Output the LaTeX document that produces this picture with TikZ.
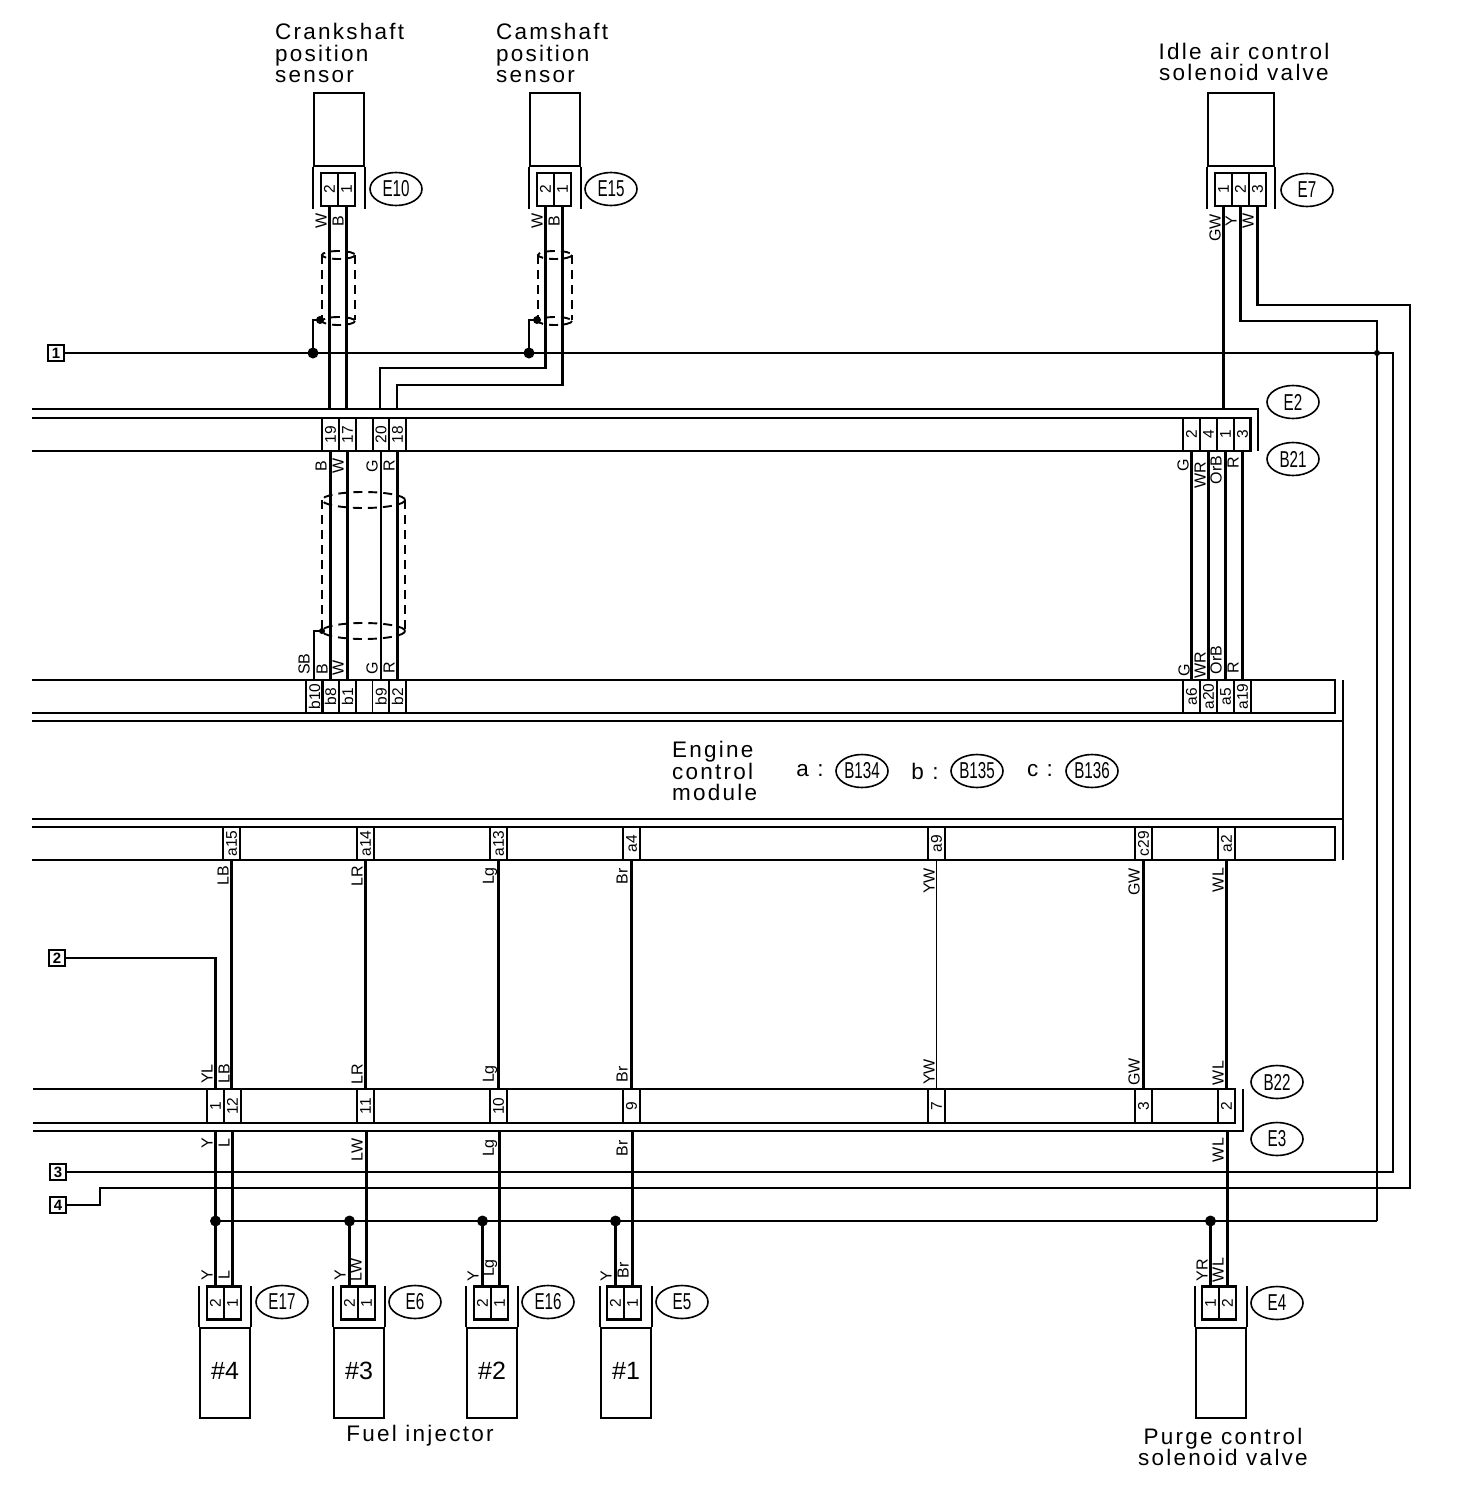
\documentclass[tikz,border=0pt]{standalone}
\usepackage{fontspec}
\setmainfont{Liberation Sans}
\newfontfamily\lblfont[LetterSpace=10]{Liberation Sans}
\usetikzlibrary{shapes.geometric,calc}
\newcommand{\rt}[1]{\rotatebox{90}{#1}}
\newcommand{\nw}[1]{\scalebox{0.66}[1]{#1}}
\tikzset{
  wire/.style={line width=2.2pt,line join=miter},
  hwire/.style={line width=2.5pt,line join=miter},
  frame/.style={line width=2.3pt},
  shield/.style={line width=1.9pt,dash pattern=on 9pt off 6pt},
  cell/.style={draw,line width=1.6pt,inner sep=0pt,minimum width=17pt,minimum height=33pt,font=\fontsize{15.5}{15}\selectfont},
  ccell/.style={cell,line width=2.2pt,font=\fontsize{15.5}{15}\selectfont},
  wlab/.style={rotate=90,inner sep=0pt,font=\fontsize{16}{16}\selectfont},
  tag/.style={draw,ellipse,line width=1.6pt,inner sep=0pt,minimum width=52pt,minimum height=33pt,font=\fontsize{23}{23}\selectfont},
  term/.style={draw,line width=2pt,inner sep=0pt,minimum size=16pt,font=\fontsize{15}{15}\selectfont\bfseries},
  dot/.style={circle,fill=black,draw=none,inner sep=0pt,minimum size=11pt},
  hous/.style={draw,line width=2.2pt,inner sep=0pt,minimum width=50pt,anchor=north west},
  caption/.style={inner sep=0pt,align=left,anchor=north west,font=\fontsize{22.5}{21.5}\selectfont\lblfont},
  ccaption/.style={inner sep=0pt,align=center,font=\fontsize{22.5}{21.5}\selectfont\lblfont},
}
\begin{document}
\begin{tikzpicture}[x=1pt,y=-1pt]
\useasboundingbox (0,0) rectangle (1456,1488);
% horizontal reference levels
\coordinate (e2y) at (0,409);
\coordinate (e3y) at (0,1131);
% captions
\node[caption] (capa) at (275,23) {Crankshaft\\position\\sensor};
\node[caption] (capb) at (496,23) {Camshaft\\position\\sensor};
\node[ccaption] (capc) at (1244,62) {Idle air control\\solenoid valve};
\node[caption] (capd) at (672,741) {Engine\\control\\module};
\node[ccaption] (cape) at (420,1436) {Fuel injector};
\node[ccaption] (capf) at (1223,1447) {Purge control\\solenoid valve};
\node[ccaption] (ka) at (810,771) {a :};
\node[ccaption] (kb) at (925,771) {b :};
\node[ccaption] (kc) at (1040,771) {c :};
% module rows and frames
\draw[frame] (32,409) -- (1258,409) -- (1258,451);
\draw[frame] (32,418) -- (1250,418) -- (1250,451) -- (32,451);
\draw[frame] (32,680) -- (1335,680) -- (1335,713) -- (32,713);
\draw[frame] (32,721) -- (1343,721);
\draw[frame] (32,819) -- (1343,819);
\draw[frame] (1343,680) -- (1343,860);
\draw[frame] (32,827) -- (1335,827) -- (1335,860) -- (32,860);
\draw[frame] (33,1089) -- (1235,1089) -- (1235,1123) -- (33,1123);
\draw[frame] (33,1131) -- (1243,1131) -- (1243,1089);
% B21 cells
\foreach \n/\x/\t in {c19/330.5/19,c17/347.5/17,cx/364.5/,c20/381/20,c18/397.5/18,cr2/1191.5/2,cr4/1208.5/4,cr1/1225.5/1,cr3/1242.5/3}
  \node[cell] (\n) at (\x,434.5) {\rt{\t}};
% ECM upper cells
\foreach \n/\x/\t in {b10/314.5/b10,b8/330.5/b8,b1/347.5/b1,b9/381/b9,b2/397.5/b2,a6/1191.5/a6,a20/1208.5/a20,a5/1225.5/a5,a19/1242.5/a19}
  \node[cell] (\n) at (\x,696.5) {\rt{\t}};
% ECM lower cells
\foreach \n/\x/\t in {a15/231.5/a15,a14/365.5/a14,a13/498.5/a13,a4/631.5/a4,a9/936.5/a9,c29/1143.5/c29,a2/1226.5/a2}
  \node[cell] (\n) at (\x,843.5) {\rt{\t}};
% B22 cells
\foreach \n/\x/\t in {d1/215.5/1,d12/232.5/12,d11/365.5/11,d10/498.5/10,d9/631.5/9,d7/936.5/7,d3/1143.5/3,d2/1226.5/2}
  \node[cell] (\n) at (\x,1106) {\rt{\t}};
% sensors
\foreach \n/\x in {sa/313,sb/529,sc/1207}{
  \ifnum\x=1207
    \node[hous,minimum width=66pt,minimum height=73pt] (\n) at (\x,92) {};
    \draw[frame] (\n.south west) -- ++(0,42);
    \draw[frame] (\n.south east) -- ++(0,42);
  \else
    \node[hous,minimum height=73pt] (\n) at (\x,92) {};
    \draw[frame] (\n.south west) -- ++(0,42);
    \draw[frame] (\n.south east) -- ++(0,42);
  \fi
}
\node[ccell] (e10b) at (329.5,189.5) {\rt{2}};
\node[ccell] (e10a) at (346.5,189.5) {\rt{1}};
\node[ccell] (e15b) at (545.5,189.5) {\rt{2}};
\node[ccell] (e15a) at (562.5,189.5) {\rt{1}};
\node[ccell] (e7a) at (1223.5,189.5) {\rt{1}};
\node[ccell] (e7b) at (1240.5,189.5) {\rt{2}};
\node[ccell] (e7c) at (1257.5,189.5) {\rt{3}};
% injectors and valve
\foreach \n/\x/\t in {ia/199/\#4,ib/333/\#3,ic/466/\#2,id/600/\#1,ie/1195/}{
  \node[hous,minimum height=90pt,font=\fontsize{25}{25}\selectfont] (\n) at (\x,1327) {\raisebox{4pt}{\t}};
  \draw[frame] (\n.north west) -- ++(0,-41);
  \draw[frame] (\n.north east) -- ++(0,-41);
}
\foreach \n/\x/\t in {fa2/215.5/2,fa1/232.5/1,fb2/349.5/2,fb1/366.5/1,fc2/482.5/2,fc1/499.5/1,fd2/615.5/2,fd1/632.5/1,fe1/1210.5/1,fe2/1227.5/2}
  \node[ccell] (\n) at (\x,1303) {\rt{\t}};
% terminals
\node[term] (t1) at (56,353) {1};
\node[term] (t2) at (57,958) {2};
\node[term] (t3) at (58,1172) {3};
\node[term] (t4) at (58,1205) {4};
% junctions
\node[dot] (ja) at (313,353) {};
\node[dot] (jb) at (529,353) {};
\node[dot,minimum size=8pt] (ga) at (320,320) {};
\node[dot,minimum size=8pt] (gb) at (537,320) {};
\node[dot,minimum size=6pt] (gc) at (322,631) {};
\node[dot,minimum size=6pt] (jc) at (1377,353) {};
\node[dot] (ka1) at (215.5,1221) {};
\node[dot] (ka2) at (349.5,1221) {};
\node[dot] (ka3) at (482.5,1221) {};
\node[dot] (ka4) at (615.5,1221) {};
\node[dot] (ka5) at (1210.5,1221) {};
% shields
\draw[shield] (322,255) -- (322,320);
\draw[shield] (355,255) -- (355,320);
\draw[shield] (338.5,255) ellipse [x radius=16.5,y radius=4];
\draw[shield] (338.5,321) ellipse [x radius=16.5,y radius=4];
\draw[shield] (538,255) -- (538,320);
\draw[shield] (572,255) -- (572,320);
\draw[shield] (555,255) ellipse [x radius=17,y radius=4];
\draw[shield] (555,321) ellipse [x radius=17,y radius=4];
\draw[shield] (322,500) -- (322,631);
\draw[shield] (405,500) -- (405,631);
\draw[shield] (363.5,500) ellipse [x radius=41.5,y radius=8];
\draw[shield] (363.5,631) ellipse [x radius=41.5,y radius=8];
% wires: sensors to harness
\draw[hwire] (e10b.south) -- (e10b.south |- e2y);
\draw[wire] (e10a.south) -- (e10a.south |- e2y);
\draw[wire] (e15b.south) |- (380,368) -- (380,409);
\draw[wire] (e15a.south) |- (397,385) -- (397,409);
\draw[wire] (e7a.south) -- (e7a.south |- e2y);
\draw[wire] (e7b.south) |- (1377,321) -- (jc.center) -- (1377,1221);
\draw[hwire] (1377,1221) -- (ka5.center) -- (ka4.center) -- (ka3.center) -- (ka2.center) -- (ka1.center);
\draw[wire] (e7c.south) |- (1410,305) |- (100,1188) |- (t4.east);
\draw[hwire] (t1.east) -- (ja.center) -- (jb.center) -- (jc.center);
\draw[wire] (jc.center) -- (1393,353) |- (t3.east);
% grounds of shields
\draw[wire] (ja.center) |- (ga.center);
\draw[wire] (jb.center) |- (gb.center);
\draw[wire] (gc.center) -- (314,631) -- (b10.north -| 314,680);
% through wires
\draw[wire] (c19.south) -- (b8.north);
\draw[wire] (c17.south) -- (b1.north);
\draw[wire] (c20.south) -- (b9.north);
\draw[wire] (c18.south) -- (b2.north);
\draw[wire] (cr2.south) -- (a6.north);
\draw[wire] (cr4.south) -- (a20.north);
\draw[wire] (cr1.south) -- (a5.north);
\draw[wire] (cr3.south) -- (a19.north);
\draw[wire] (a15.south) -- (a15.south |- d12.north);
\draw[wire] (a14.south) -- (d11.north);
\draw[wire] (a13.south) -- (d10.north);
\draw[wire] (a4.south) -- (d9.north);
\draw[wire,line width=1.6pt] (a9.south) -- (d7.north);
\draw[wire] (c29.south) -- (d3.north);
\draw[wire] (a2.south) -- (d2.north);
\draw[wire] (t2.east) -| (d1.north);
% wires to injectors
\draw[wire] (fa2.north) -- (fa2.north |- e3y);
\draw[wire] (fa1.north) -- (fa1.north |- e3y);
\draw[wire] (fb2.north) -- (ka2.center);
\draw[wire] (fb1.north) -- (fb1.north |- e3y);
\draw[wire] (fc2.north) -- (ka3.center);
\draw[wire] (fc1.north) -- (fc1.north |- e3y);
\draw[wire] (fd2.north) -- (ka4.center);
\draw[wire] (fd1.north) -- (fd1.north |- e3y);
\draw[wire] (fe1.north) -- (ka5.center);
\draw[wire] (fe2.north) -- (fe2.north |- e3y);
% wire labels
\foreach \i/\x/\y/\t in {1/321/221/W,2/338/221/B,3/537/221/W,4/554/221/B,5/1215/228/GW,6/1231/221/Y,7/1248/221/W,
 8/321/466/B,9/338/466/W,10/372/466/G,11/389/466/R,12/1183/465/G,13/1200/475/WR,14/1216/470/OrB,15/1233/463/R,
 16/304/664/SB,17/322/669/B,18/338/668/W,19/372/668/G,20/389/668/R,21/1184/670/G,22/1200/665/WR,23/1216/660/OrB,24/1233/668/R,
 25/223/876/LB,26/357/876/LR,27/490/876/Lg,28/622/876/Br,29/929/881/YW,30/1134/882/GW,31/1218/880/WL,
 32/207/1074/YL,33/224/1074/LB,34/357/1074/LR,35/490/1074/Lg,36/622/1074/Br,37/929/1072/YW,38/1134/1072/GW,39/1218/1073/WL,
 40/207/1143/Y,41/224/1143/L,42/357/1150/LW,43/490/1148/Lg,44/622/1148/Br,45/1218/1150/WL,
 46/207/1275/Y,47/224/1275/L,48/340/1275/Y,49/356/1270/LW,50/473/1276/Y,51/490/1268/Lg,52/606/1276/Y,53/623/1270/Br,54/1202/1270/YR,55/1218/1270/WL}
  \node[wlab] (w\i) at (\x,\y) {\t};
% tags
\foreach \n/\x/\y/\t in {te10/396/189/E10,te15/611/189/E15,te7/1307/190/E7,te2/1293/402/E2,tb21/1293/459/B21,
 tb134/862/771/B134,tb135/977/771/B135,tb136/1092/771/B136,tb22/1277/1082/B22,te3/1277/1139/E3,te4/1277/1303/E4,
 te17/282/1302/E17,te6/415/1302/E6,te16/548/1302/E16,te5/682/1302/E5}
  \node[tag] (\n) at (\x,\y) {\nw{\t}};
\end{tikzpicture}
\end{document}
